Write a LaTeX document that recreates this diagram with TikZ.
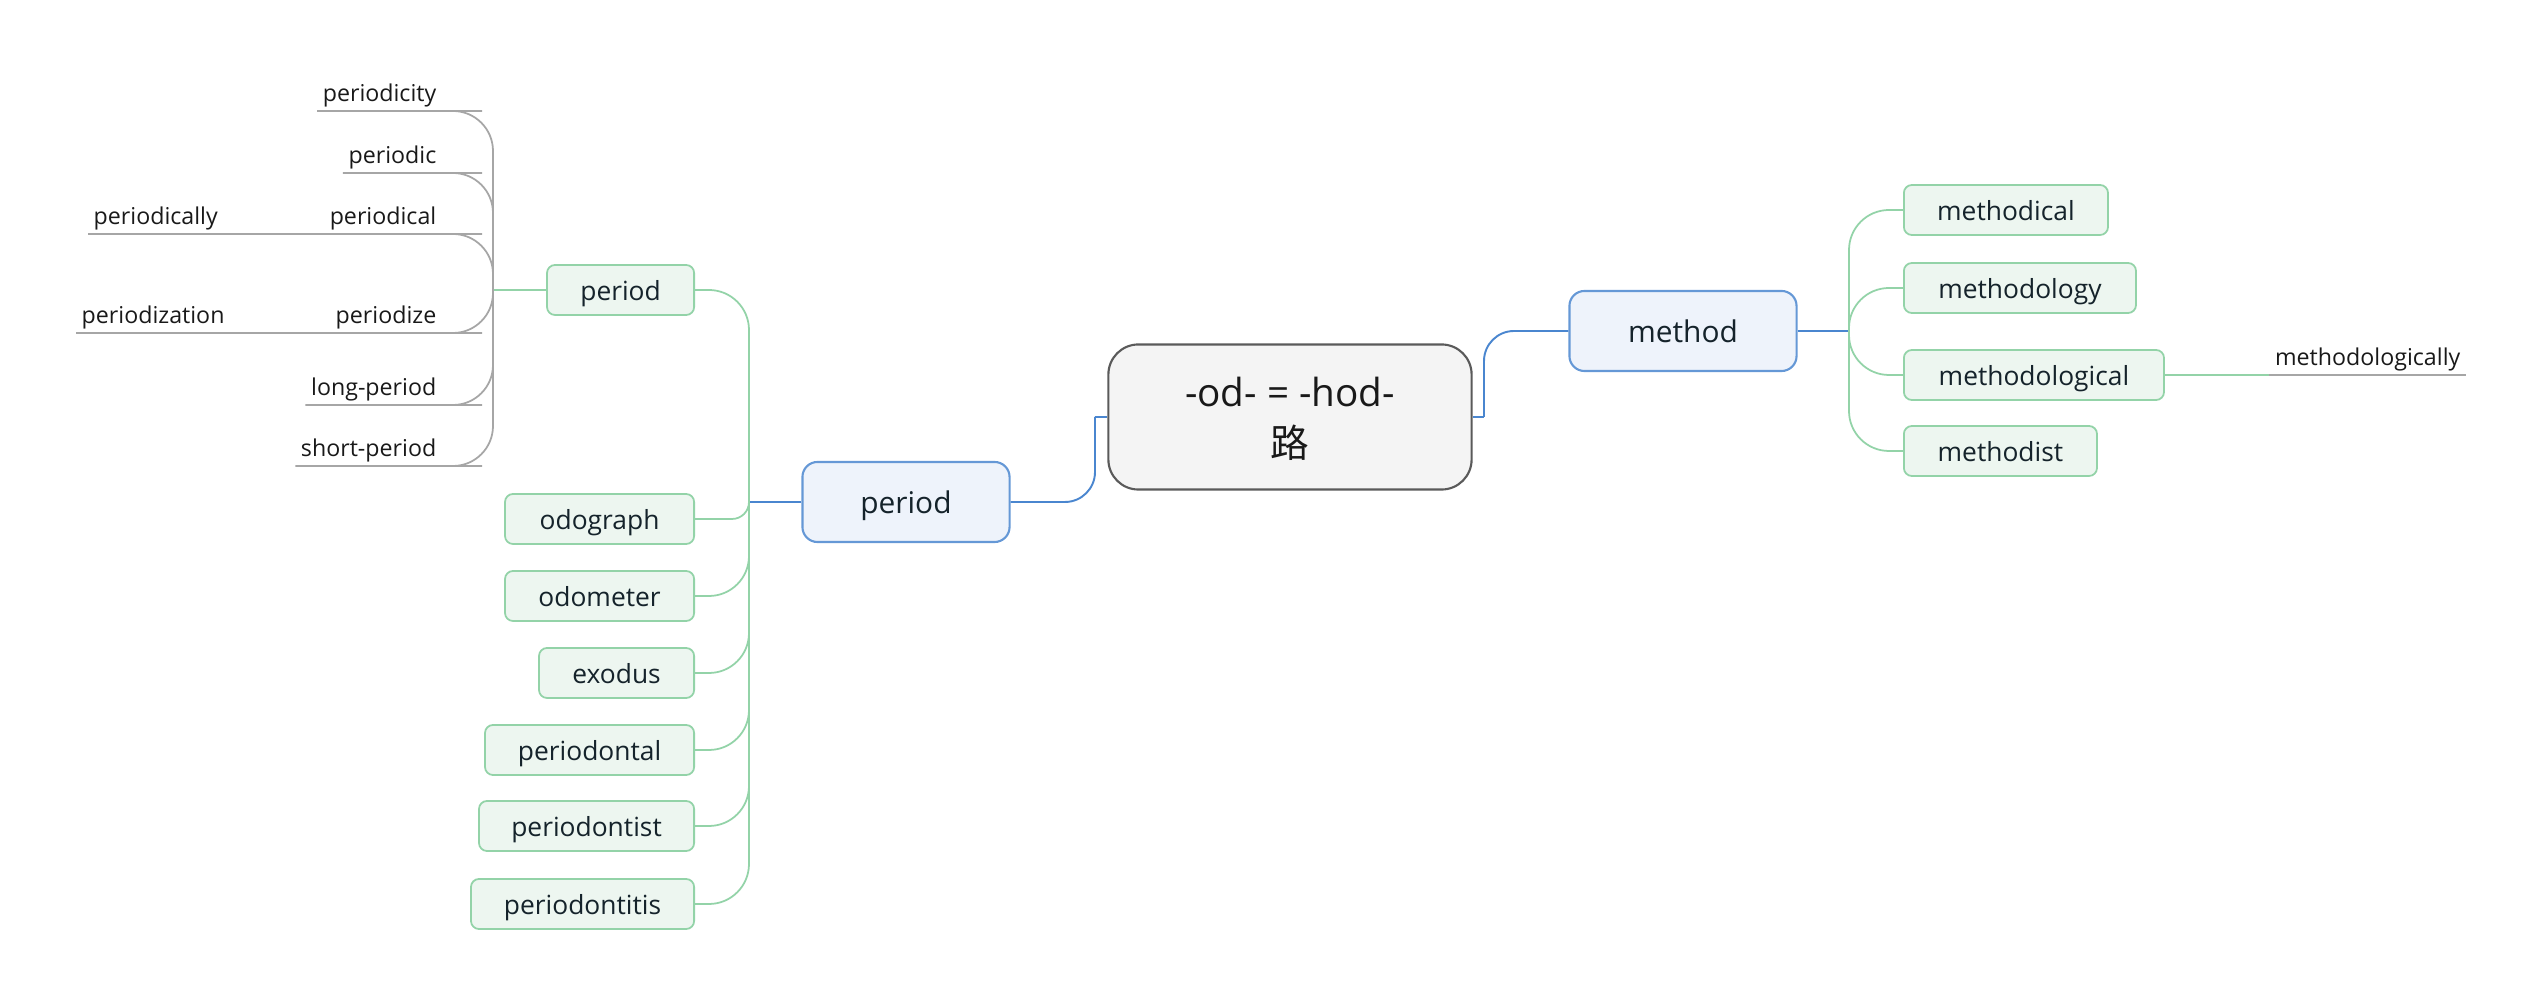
\documentclass[tikz,border=0pt]{standalone}
\usepackage{fontspec}
\setmainfont{Open Sans}
\newfontfamily\cjkfont{Noto Sans CJK SC}
\usetikzlibrary{positioning}
\definecolor{rootfill}{HTML}{F4F4F4}
\definecolor{rootline}{HTML}{5A5A5A}
\definecolor{bluefill}{HTML}{EEF3FB}
\definecolor{blueline}{HTML}{4A86CF}
\definecolor{greenfill}{HTML}{EDF6F0}
\definecolor{greenline}{HTML}{93D3A8}
\definecolor{grayline}{HTML}{A6A6A6}
\definecolor{inktext}{HTML}{15232B}
\tikzstyle{root vertex}=[draw=rootline,fill=rootfill,line width=0.6pt,rounded corners=0.3cm,minimum width=3.63cm,minimum height=1.45cm,align=center,text depth=0pt,text=black!90,font=\fontsize{11}{14.5}\selectfont]
\tikzstyle{main vertex}=[draw=blueline!85,fill=bluefill,line width=0.6pt,rounded corners=0.15cm,minimum height=0.8cm,text depth=0pt,text=inktext,font=\fontsize{8.5}{10}\selectfont]
\tikzstyle{sub vertex}=[draw=greenline,fill=greenfill,line width=0.5pt,rounded corners=0.08cm,minimum height=0.5cm,text depth=0pt,text=inktext,font=\fontsize{7.5}{9}\selectfont]
\tikzstyle{leaf}=[inner xsep=0.05cm,inner ysep=1pt,text depth=1.6pt,text=black!90,font=\fontsize{6.6}{8}\selectfont]
\tikzstyle{blue edge}=[draw=blueline,line width=0.55pt]
\tikzstyle{green edge}=[draw=greenline,line width=0.5pt]
\tikzstyle{gray edge}=[draw=grayline,line width=0.5pt]

\begin{document}
\begin{tikzpicture}[x=0.01cm,y=-0.01cm]
\useasboundingbox (0,0) rectangle (2541,1004);

% Central topic and the two main branches
\node[root vertex] (root) at (1290,417) {-od- = -hod-\\{\cjkfont 路}};
\node[main vertex,minimum width=2.07cm] (lperiod) at (906,502) {period};
\node[main vertex,minimum width=2.27cm] (method) at (1683,331) {method};

\coordinate (rootL) at (1095,417);
\coordinate (rootR) at (1484,417);
\draw[blue edge] (root.west) -- (rootL);
\draw[blue edge,rounded corners=0.3cm] (rootL) |- (lperiod.east);
\draw[blue edge] (root.east) -- (rootR);
\draw[blue edge,rounded corners=0.3cm] (rootR) |- (method.west);

% Trunks where the children split off
\coordinate (ltrunk) at (749,502);
\coordinate (mtrunk) at (1849,331);
\coordinate (ptrunk) at (493,290);
\draw[blue edge] (lperiod.west) -- (ltrunk);
\draw[blue edge] (method.east) -- (mtrunk);

% Children of the left branch
\foreach \y/\name/\txt/\bw in {290/pperiod/period/1.47,
519/odograph/odograph/1.89,
596/odometer/odometer/1.89,
673/exodus/exodus/1.55,
750/periodontal/periodontal/2.09,
826/periodontist/periodontist/2.15,
904/periodontitis/periodontitis/2.23}
\node[sub vertex,anchor=east,minimum width=\bw cm] (\name) at (695,\y) {\txt};

\foreach \name/\r in {pperiod/0.4,odograph/0.17,odometer/0.4,exodus/0.4,periodontal/0.4,periodontist/0.4,periodontitis/0.4}
\draw[green edge,rounded corners=\r cm] (ltrunk) |- (\name.east);

% Children of the right branch
\foreach \y/\name/\txt/\bw in {210/methodical/methodical/2.04,
288/methodology/methodology/2.32,
375/methodological/methodological/2.60,
451/methodist/methodist/1.93}
\node[sub vertex,anchor=west,minimum width=\bw cm] (\name) at (1903,\y) {\txt};

\foreach \name in {methodical,methodology,methodological,methodist}
\draw[green edge,rounded corners=0.4cm] (mtrunk) |- (\name.west);

% Words under the small period
\draw[green edge] (pperiod.west) -- (ptrunk);
\foreach \y/\name/\txt in {111/periodicity/periodicity,
173/periodic/periodic,
234/periodical/periodical,
333/periodize/periodize,
405/longperiod/long-period,
466/shortperiod/short-period}
{
\node[leaf,anchor=south east] (\name) at (442,\y) {\txt};
\draw[gray edge,rounded corners=0.4cm] (ptrunk) |- (\name.south east) -- (\name.south west);
}

\node[leaf,anchor=south west] (periodically) at (88,234) {periodically};
\node[leaf,anchor=south west] (periodization) at (76,333) {periodization};
\draw[gray edge] (periodical.south west) -- (periodically.south west);
\draw[gray edge] (periodize.south west) -- (periodization.south west);

\node[leaf,anchor=south east] (methodologically) at (2466,375) {methodologically};
\draw[green edge] (methodological.east) -- (methodologically.south west);
\draw[gray edge] (methodologically.south west) -- (methodologically.south east);

\end{tikzpicture}
\end{document}
